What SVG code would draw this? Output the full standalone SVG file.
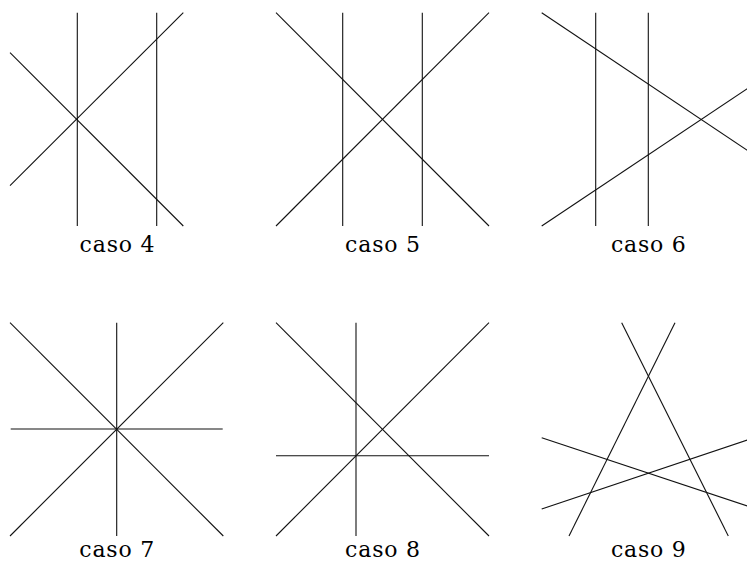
<svg xmlns="http://www.w3.org/2000/svg" width="747" height="565" viewBox="0 0 747 565">
<style>
line{stroke:#111;stroke-width:1.1;fill:none}
text{font-family:'DejaVu Serif','Liberation Serif',serif;font-size:22px;letter-spacing:0.8px;fill:#000;text-anchor:middle}
</style>
<rect width="747" height="565" fill="#fff"/>
<g id="caso4">
<line x1="77.3" y1="12.7" x2="77.3" y2="226"/>
<line x1="156.7" y1="12.7" x2="156.7" y2="226"/>
<line x1="10" y1="185.7" x2="183.3" y2="12.7"/>
<line x1="10" y1="52.7" x2="183.3" y2="226"/>
<text x="117.5" y="252">caso 4</text>
</g>
<g id="caso5">
<line x1="342.7" y1="12.7" x2="342.7" y2="226"/>
<line x1="422.3" y1="12.7" x2="422.3" y2="226"/>
<line x1="276" y1="12.7" x2="489" y2="226"/>
<line x1="276" y1="226" x2="489" y2="12.7"/>
<text x="383" y="252">caso 5</text>
</g>
<g id="caso6">
<line x1="595.7" y1="12.7" x2="595.7" y2="226"/>
<line x1="648.3" y1="12.7" x2="648.3" y2="226"/>
<line x1="541.7" y1="12.7" x2="747.3" y2="150.3"/>
<line x1="541.7" y1="226" x2="747.3" y2="88.7"/>
<text x="648.8" y="252">caso 6</text>
</g>
<g id="caso7">
<line x1="116.7" y1="322.7" x2="116.7" y2="536"/>
<line x1="10.7" y1="429" x2="222.7" y2="429"/>
<line x1="10" y1="322.7" x2="223.3" y2="536"/>
<line x1="10" y1="536" x2="223.3" y2="322.7"/>
<text x="117.2" y="557">caso 7</text>
</g>
<g id="caso8">
<line x1="356" y1="322.7" x2="356" y2="536"/>
<line x1="276" y1="455.7" x2="489" y2="455.7"/>
<line x1="276" y1="322.7" x2="489" y2="536"/>
<line x1="276" y1="536" x2="489" y2="322.7"/>
<text x="383" y="557">caso 8</text>
</g>
<g id="caso9">
<line x1="621.7" y1="322.7" x2="728.3" y2="536"/>
<line x1="675" y1="322.7" x2="569" y2="536"/>
<line x1="541.7" y1="437.7" x2="747.3" y2="506"/>
<line x1="541.7" y1="509" x2="747.3" y2="440"/>
<text x="648.8" y="557">caso 9</text>
</g>
</svg>
